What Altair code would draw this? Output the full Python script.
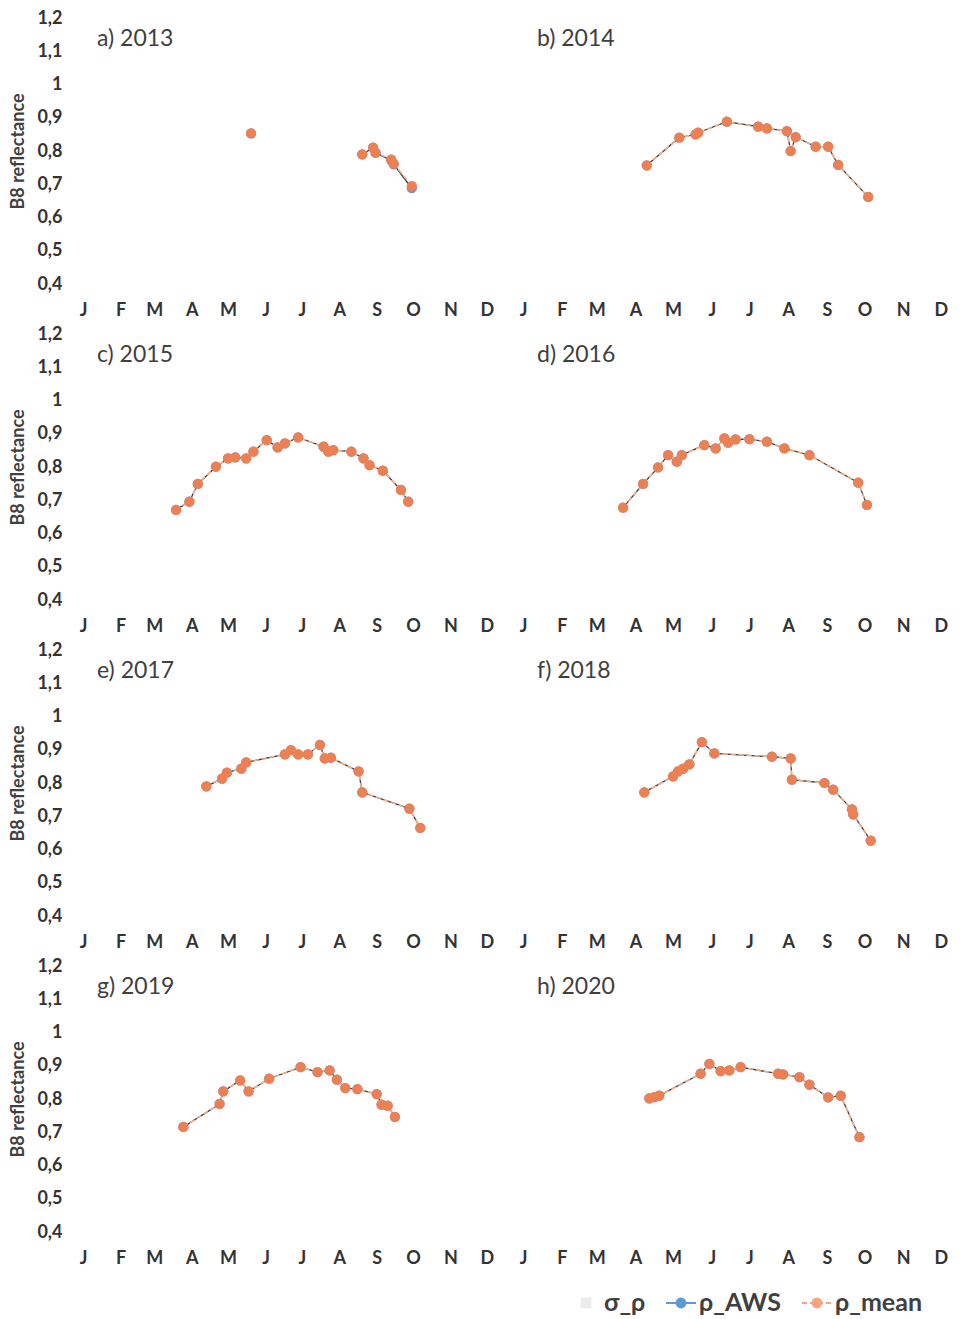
import altair as alt
import pandas as pd

# ---------------- data ----------------
months = ["J", "F", "M", "A", "M", "J", "J", "A", "S", "O", "N", "D"]
month_start_days = [1, 32, 60, 91, 121, 152, 182, 213, 244, 274, 305, 335]
y_ticks = [0.4, 0.5, 0.6, 0.7, 0.8, 0.9, 1.0, 1.1, 1.2]
y_tick_labels = ["0,4", "0,5", "0,6", "0,7", "0,8", "0,9", "1", "1,1", "1,2"]
panel_titles = ["a) 2013", "b) 2014", "c) 2015", "d) 2016",
                "e) 2017", "f) 2018", "g) 2019", "h) 2020"]
legend_labels = ["σ_ρ", "ρ_AWS", "ρ_mean"]

# day of year ; None marks a gap in the record
doy_2013 = [140, None, 232, 241, 243, 256, 258, 273]
mean_2013 = [0.853, None, 0.79, 0.81, 0.795, 0.775, 0.762, 0.695]
aws_2013 = [0.853, None, 0.79, 0.81, 0.795, 0.772, 0.760, 0.688]

doy_2014 = [100, 126, 139, 141, 164, 189, 196, 212, 215, 219, 235, 245, 253, 277]
mean_2014 = [0.757, 0.84, 0.85, 0.855, 0.888, 0.873, 0.868, 0.86, 0.80, 0.842, 0.813, 0.813, 0.758, 0.662]
aws_2014 = [0.757, 0.84, 0.85, 0.855, 0.888, 0.873, 0.868, 0.86, 0.80, 0.842, 0.813, 0.813, 0.758, 0.662]

doy_2015 = [78, 89, 96, 111, 121, 127, 136, 142, 153, 162, 168, 179, 200, 204, 208, 223, 233, 238, 249, 264, 270]
mean_2015 = [0.671, 0.696, 0.749, 0.801, 0.826, 0.829, 0.826, 0.846, 0.881, 0.859, 0.871, 0.889,
             0.861, 0.846, 0.851, 0.846, 0.826, 0.806, 0.789, 0.731, 0.696]
aws_2015 = [0.671, 0.696, 0.749, 0.801, 0.826, 0.829, 0.826, 0.846, 0.881, 0.859, 0.871, 0.889,
            0.861, 0.846, 0.851, 0.846, 0.826, 0.806, 0.789, 0.731, 0.696]

doy_2016 = [81, 97, 109, 117, 124, 128, 146, 155, 162, 165, 171, 182, 196, 210, 230, 269, 276]
mean_2016 = [0.678, 0.749, 0.799, 0.836, 0.816, 0.836, 0.866, 0.856, 0.886, 0.873, 0.883, 0.884,
             0.876, 0.856, 0.836, 0.753, 0.686]
aws_2016 = [0.678, 0.749, 0.799, 0.836, 0.816, 0.836, 0.866, 0.856, 0.886, 0.873, 0.883, 0.884,
            0.876, 0.856, 0.836, 0.753, 0.686]

doy_2017 = [103, 116, 120, 132, 136, 168, 173, 179, 187, 197, 201, 206, 229, 232, 271, 280]
mean_2017 = [0.790, 0.813, 0.831, 0.843, 0.862, 0.886, 0.899, 0.886, 0.886, 0.915, 0.874, 0.876,
             0.835, 0.772, 0.723, 0.665]
aws_2017 = [0.790, 0.813, 0.831, 0.843, 0.862, 0.886, 0.899, 0.886, 0.886, 0.915, 0.874, 0.876,
            0.835, 0.772, 0.723, 0.665]

doy_2018 = [98, 121, 125, 129, 134, 144, 154, 200, 215, 216, 242, 249, 264, 265, 279]
mean_2018 = [0.772, 0.820, 0.835, 0.843, 0.856, 0.923, 0.889, 0.879, 0.874, 0.81, 0.800, 0.780,
             0.721, 0.706, 0.627]
aws_2018 = [0.772, 0.820, 0.835, 0.843, 0.856, 0.923, 0.889, 0.879, 0.874, 0.81, 0.800, 0.780,
            0.721, 0.706, 0.627]

doy_2019 = [84, 114, 117, 131, 138, 155, 181, 195, 205, 211, 218, 228, 244, 248, 253, 259]
mean_2019 = [0.716, 0.785, 0.823, 0.856, 0.823, 0.861, 0.896, 0.881, 0.886, 0.858, 0.833, 0.83,
             0.815, 0.783, 0.78, 0.746]
aws_2019 = [0.716, 0.785, 0.823, 0.856, 0.823, 0.861, 0.896, 0.881, 0.886, 0.858, 0.833, 0.83,
            0.815, 0.783, 0.78, 0.746]

doy_2020 = [102, 106, 110, 143, 150, 159, 166, 175, 205, 209, 222, 230, 245, 255, 270]
mean_2020 = [0.802, 0.806, 0.81, 0.876, 0.906, 0.884, 0.886, 0.896, 0.876, 0.874, 0.866, 0.843,
             0.805, 0.81, 0.685]
aws_2020 = [0.802, 0.806, 0.81, 0.876, 0.906, 0.884, 0.886, 0.896, 0.876, 0.874, 0.866, 0.843,
            0.805, 0.81, 0.685]

doys = [doy_2013, doy_2014, doy_2015, doy_2016, doy_2017, doy_2018, doy_2019, doy_2020]
means = [mean_2013, mean_2014, mean_2015, mean_2016, mean_2017, mean_2018, mean_2019, mean_2020]
awss = [aws_2013, aws_2014, aws_2015, aws_2016, aws_2017, aws_2018, aws_2019, aws_2020]

# ---------------- style ----------------
FONT = "Lato"
TXT = "#404040"
AWS_LINE = "#3c3c4a"
AWS_PT = "#8d8fb6"
MEAN_LINE = "#F4B183"
MEAN_PT = "#F08050"
legend_colors = ["#ECECEC", "#5B9BD5", "#F4A582"]

month_expr = "[" + ",".join("'%s'" % m for m in months) + "][indexof([" + \
    ",".join(str(d) for d in month_start_days) + "], datum.value)]"
y_expr = "[" + ",".join("'%s'" % t for t in y_tick_labels) + "][indexof([" + \
    ",".join(repr(v) for v in y_ticks) + "], datum.value)]"


def series_df(days, vals):
    rows, seg = [], 0
    for d, v in zip(days, vals):
        if d is None or v is None:
            seg += 1
            continue
        rows.append({"doy": d, "value": v, "seg": seg})
    return pd.DataFrame(rows)


def make_panel(i):
    right = i % 2 == 1
    width = 439 if right else 440
    xdom = [1, 352] if right else [1, 365]
    xaxis = alt.Axis(values=month_start_days, labelExpr=month_expr, title=None, grid=False,
                     domain=False, ticks=False, labelPadding=17, labelFontSize=18,
                     labelFontWeight="bold", labelColor="#333333", labelFont=FONT,
                     labelFlush=False, labelOverlap=False)
    if right:
        yaxis = None
    else:
        yaxis = alt.Axis(values=y_ticks, labelExpr=y_expr, title="B8 reflectance", grid=False,
                         domain=False, ticks=False, labelPadding=21, labelFontSize=18,
                         labelFontWeight="bold", labelColor="#333333", labelFont=FONT,
                         titleFont=FONT, titleFontSize=18, titleFontWeight="bold",
                         titleColor=TXT, titlePadding=9, labelFlush=False)
    x = alt.X("doy:Q", scale=alt.Scale(domain=xdom, nice=False, zero=False), axis=xaxis)
    y = alt.Y("value:Q", scale=alt.Scale(domain=[0.4, 1.2], nice=False, zero=False), axis=yaxis)

    aws = series_df(doys[i], awss[i])
    mean = series_df(doys[i], means[i])

    aws_line = alt.Chart(aws).mark_line(color=AWS_LINE, strokeWidth=1.3).encode(
        x=x, y=y, detail="seg:N", order="doy:Q")
    mean_line = alt.Chart(mean).mark_line(color=MEAN_LINE, strokeWidth=1.6, strokeDash=[5, 3]).encode(
        x=x, y=y, detail="seg:N", order="doy:Q")
    aws_pts = alt.Chart(aws).mark_point(filled=True, size=105, color=AWS_PT, opacity=1).encode(x=x, y=y)
    mean_pts = alt.Chart(mean).mark_point(filled=True, size=105, color=MEAN_PT, opacity=0.95).encode(x=x, y=y)
    title = alt.Chart(pd.DataFrame({"t": [panel_titles[i]]})).mark_text(
        align="left", baseline="middle", fontSize=23, font=FONT, color=TXT).encode(
        text="t:N", x=alt.value(14), y=alt.value(21))
    return alt.layer(aws_line, mean_line, aws_pts, mean_pts, title).properties(width=width, height=266)


panels = [make_panel(i) for i in range(8)]

# empty cell under the left column
blank = alt.Chart(pd.DataFrame({"t": [""]})).mark_text().encode(text="t:N").properties(width=440, height=40)

# legend row, under the right column
leg_df = pd.DataFrame({"label": legend_labels, "slot": list(range(len(legend_labels)))})
leg_x = alt.X("slot:Q", scale=alt.Scale(domain=[0, 1, 2], range=[63, 158, 294]), axis=None)
leg_color = alt.Color("label:N", scale=alt.Scale(domain=legend_labels, range=legend_colors), legend=None)
leg_lines = alt.Chart(leg_df).transform_filter("datum.slot > 0").mark_rule(
    strokeWidth=2, xOffset=-15, x2Offset=15).encode(
    x=leg_x, x2="slot:Q", y=alt.value(21), color=leg_color,
    strokeDash=alt.StrokeDash("label:N", scale=alt.Scale(domain=legend_labels,
                                                         range=[[1, 0], [1, 0], [5, 3]]), legend=None))
leg_pts = alt.Chart(leg_df).mark_point(filled=True, size=120, opacity=1).encode(
    x=leg_x, y=alt.value(21), color=leg_color,
    shape=alt.Shape("label:N", scale=alt.Scale(domain=legend_labels, range=["square", "circle", "circle"]),
                    legend=None))
leg_txt = alt.Chart(leg_df).mark_text(align="left", baseline="middle", dx=18, fontSize=25,
                                      font=FONT, color=TXT, fontWeight="bold").encode(
    x=leg_x, y=alt.value(21), text="label:N")
legend = alt.layer(leg_lines, leg_pts, leg_txt).properties(width=439, height=40)

chart = alt.concat(*panels, blank, legend, columns=2, spacing={"row": 50, "column": 0},
                   bounds="flush").properties(
    padding={"left": 9, "top": 9, "right": 0, "bottom": 0}
).configure(background="white", font=FONT,
            view=alt.ViewConfig(stroke="transparent", strokeWidth=0))

chart.save("out.html", embed_options={"renderer": "svg", "actions": False})
